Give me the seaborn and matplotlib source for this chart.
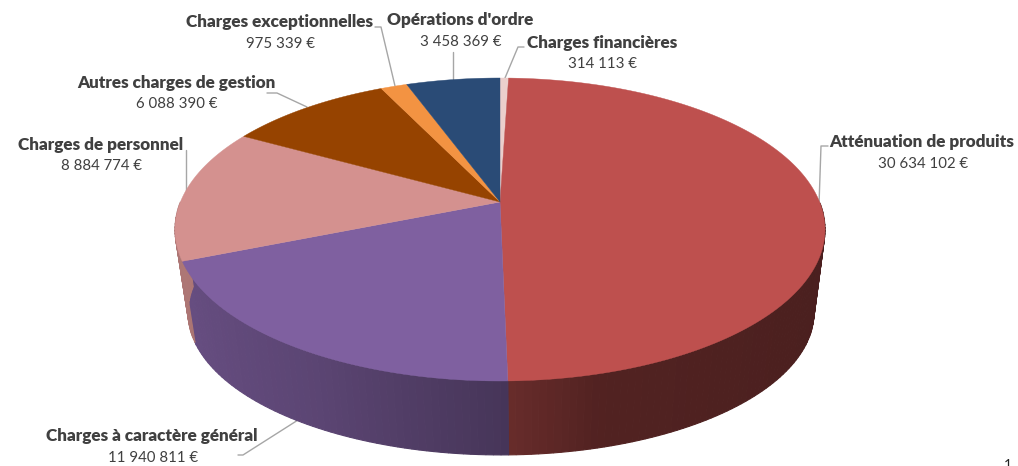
import numpy as np
import seaborn as sns
import matplotlib
matplotlib.use('Agg')
import matplotlib.pyplot as plt

# Values, clockwise from the top of the pie
names = ['Charges financières', 'Atténuation de produits', 'Charges à caractère général',
         'Charges de personnel', 'Autres charges de gestion', 'Charges exceptionnelles',
         "Opérations d'ordre"]
amounts = [314113, 30634102, 11940811, 8884774, 6088390, 975339, 3458369]
amount_labels = ['314 113 €', '30 634 102 €', '11 940 811 €', '8 884 774 €',
                 '6 088 390 €', '975 339 €', '3 458 369 €']
hex_colors = ['#EBCFCC', '#BE504E', '#7F60A0', '#D4918F', '#964300', '#F39342', '#2A4B76']

# Label centres and leader lines, in pixels
label_xy = [(602, 43), (922, 142), (152, 436), (101, 145), (176, 83), (280, 22), (460, 20)]
leaders = [[(524, 47), (518, 47), (505, 78)],
           [(828, 146), (821, 146), (819, 205)],
           [(238, 455), (243, 455), (298, 420)],
           [(186, 150), (186, 199)],
           [(267, 93), (277, 93), (307, 107)],
           [(375, 27), (381, 27), (395, 86)],
           [(453, 52), (453, 79)]]

sns.set_theme(style='white')
plt.rcParams['font.family'] = ['Lato', 'DejaVu Sans']
palette = sns.color_palette(hex_colors)

# Perspective of the disc
APEX_X, APEX_Y = 500, 202
A, B, K = 146.5, 319.6, 0.1815


def top_disc(t):
    # t is the angle clockwise from the top
    x, y = np.sin(t), np.cos(t)
    return APEX_X + B * x / (1 + K * y), APEX_Y - A * y / (1 + K * y)


def bottom_disc(t):
    x, y = top_disc(t)
    return APEX_X + 1 + (x - APEX_X) * 0.963, 313 + (y - 230) * 0.94


def wall_shade(t):
    return np.interp(np.sin(t), [-1, -0.5, 0, 0.25, 1], [0.82, 0.72, 0.56, 0.43, 0.39])


fig, ax = plt.subplots(figsize=(10.18, 4.66), dpi=100)
fig.subplots_adjust(0, 0, 1, 1)
ax.set_xlim(0, 1018)
ax.set_ylim(466, 0)
ax.axis('off')

edges = np.cumsum([0] + amounts) / sum(amounts) * 2 * np.pi

# Side wall, small strips so the shade can change around the rim
for start, end, color in zip(edges[:-1], edges[1:], palette):
    steps = max(2, int((end - start) / 0.02))
    ts = np.linspace(start, end, steps + 1)
    for t0, t1 in zip(ts[:-1], ts[1:]):
        # back half is hidden by the top
        if np.cos((t0 + t1) / 2) > 0:
            continue
        x0, y0 = top_disc(t0)
        x1, y1 = top_disc(t1)
        x2, y2 = bottom_disc(t1)
        x3, y3 = bottom_disc(t0)
        shade = wall_shade((t0 + t1) / 2)
        c = tuple(v * shade for v in color)
        ax.fill([x0, x1, x2, x3], [y0, y1, y2, y3], color=c, lw=0.8, zorder=2)

# Top of the pie
for start, end, color in zip(edges[:-1], edges[1:], palette):
    ts = np.linspace(start, end, max(3, int((end - start) / 0.01)))
    xs, ys = top_disc(ts)
    ax.fill(np.r_[APEX_X, xs], np.r_[APEX_Y, ys], color=color, lw=0.3, zorder=3)

for pts in leaders:
    xs, ys = zip(*pts)
    ax.plot(xs, ys, color='#A6A6A6', lw=1, zorder=1.5)

for name, value, (x, y) in zip(names, amount_labels, label_xy):
    ax.text(x, y, name, ha='center', va='center', fontsize=12.35, fontweight=800,
            color='#404040', zorder=5)
    ax.text(x + 1, y + 21.5, value, ha='center', va='center', fontsize=10.8,
            color='#404040', zorder=5)

# cut by the bottom edge, as in the source image
ax.text(1008, 465, '1', ha='center', va='center', fontsize=10, color='#222222')

fig.savefig('out.png', dpi=100)
